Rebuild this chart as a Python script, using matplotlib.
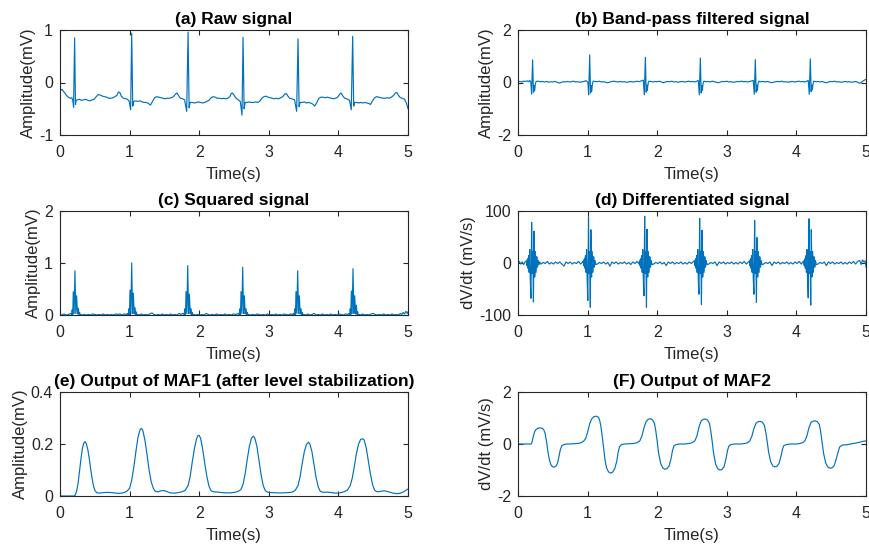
import matplotlib
matplotlib.use("Agg")
import matplotlib.pyplot as plt

plt.rcParams['font.family'] = ['Liberation Sans', 'DejaVu Sans']

LINE_COLOR = '#0072BD'

# ---------------- data (time in s, value) ----------------
raw_signal = [
    (0.00, -0.12), (0.02, -0.14), (0.03, -0.13), (0.05, -0.17), (0.07, -0.20), (0.09, -0.24),
    (0.11, -0.27), (0.13, -0.29), (0.15, -0.30), (0.17, -0.29), (0.185, -0.35), (0.195, -0.47),
    (0.21, 0.85), (0.222, -0.42), (0.232, -0.34), (0.25, -0.33), (0.28, -0.32), (0.31, -0.34),
    (0.34, -0.33), (0.37, -0.32), (0.40, -0.34), (0.43, -0.35), (0.46, -0.33), (0.49, -0.32),
    (0.52, -0.27), (0.55, -0.23), (0.58, -0.24), (0.61, -0.26), (0.64, -0.27), (0.67, -0.28),
    (0.70, -0.30), (0.73, -0.30), (0.76, -0.29), (0.79, -0.27), (0.82, -0.24), (0.84, -0.18),
    (0.86, -0.19), (0.88, -0.26), (0.91, -0.30), (0.94, -0.31), (0.97, -0.32), (0.995, -0.36),
    (1.015, -0.52), (1.03, 0.94), (1.045, -0.45), (1.06, -0.36), (1.09, -0.35), (1.12, -0.36),
    (1.15, -0.35), (1.18, -0.37), (1.21, -0.38), (1.24, -0.38), (1.27, -0.40), (1.30, -0.43),
    (1.33, -0.36), (1.36, -0.29), (1.39, -0.27), (1.42, -0.28), (1.45, -0.29), (1.48, -0.30),
    (1.51, -0.31), (1.54, -0.30), (1.57, -0.30), (1.60, -0.29), (1.63, -0.27), (1.66, -0.22),
    (1.68, -0.20), (1.70, -0.24), (1.73, -0.30), (1.76, -0.31), (1.79, -0.33), (1.82, -0.55),
    (1.84, 0.96), (1.855, -0.48), (1.87, -0.38), (1.90, -0.38), (1.93, -0.39), (1.96, -0.38),
    (1.99, -0.37), (2.02, -0.38), (2.05, -0.39), (2.08, -0.38), (2.11, -0.36), (2.14, -0.34),
    (2.17, -0.29), (2.20, -0.27), (2.23, -0.28), (2.26, -0.30), (2.29, -0.30), (2.32, -0.31),
    (2.35, -0.30), (2.38, -0.31), (2.41, -0.30), (2.44, -0.27), (2.46, -0.21), (2.48, -0.20),
    (2.50, -0.24), (2.53, -0.30), (2.56, -0.33), (2.59, -0.36), (2.615, -0.62), (2.63, 0.86),
    (2.645, -0.50), (2.66, -0.38), (2.69, -0.38), (2.72, -0.37), (2.75, -0.38), (2.78, -0.38),
    (2.81, -0.37), (2.84, -0.38), (2.87, -0.36), (2.90, -0.30), (2.93, -0.27), (2.96, -0.26),
    (2.99, -0.28), (3.02, -0.29), (3.05, -0.30), (3.08, -0.31), (3.11, -0.30), (3.14, -0.31),
    (3.17, -0.29), (3.20, -0.27), (3.23, -0.22), (3.25, -0.21), (3.27, -0.25), (3.30, -0.30),
    (3.33, -0.31), (3.37, -0.33), (3.40, -0.55), (3.42, 0.83), (3.435, -0.46), (3.45, -0.38),
    (3.48, -0.38), (3.51, -0.37), (3.54, -0.39), (3.57, -0.38), (3.60, -0.39), (3.63, -0.41),
    (3.66, -0.45), (3.69, -0.38), (3.72, -0.30), (3.75, -0.28), (3.78, -0.28), (3.81, -0.29),
    (3.84, -0.28), (3.87, -0.29), (3.90, -0.30), (3.93, -0.31), (3.96, -0.30), (3.99, -0.28),
    (4.02, -0.22), (4.04, -0.20), (4.06, -0.25), (4.09, -0.30), (4.12, -0.31), (4.16, -0.34),
    (4.185, -0.52), (4.205, 0.88), (4.22, -0.45), (4.235, -0.38), (4.26, -0.38), (4.29, -0.39),
    (4.32, -0.38), (4.35, -0.39), (4.38, -0.38), (4.41, -0.39), (4.44, -0.40), (4.46, -0.42),
    (4.49, -0.35), (4.52, -0.29), (4.55, -0.27), (4.58, -0.28), (4.61, -0.29), (4.64, -0.30),
    (4.67, -0.30), (4.70, -0.29), (4.73, -0.30), (4.76, -0.28), (4.79, -0.25), (4.82, -0.20),
    (4.84, -0.19), (4.86, -0.24), (4.89, -0.29), (4.92, -0.30), (4.95, -0.32), (4.98, -0.40),
    (5.00, -0.50),
]

bandpass_signal = [
    (0.00, 0.03), (0.03, 0.04), (0.05, 0.02), (0.07, 0.05), (0.10, 0.04), (0.13, 0.06), (0.15, 0.03),
    (0.17, 0.08), (0.185, 0.0), (0.195, -0.44), (0.21, 0.86), (0.222, -0.37), (0.23, -0.12),
    (0.238, -0.32), (0.25, -0.05), (0.26, 0.04), (0.29, 0.05), (0.32, 0.03), (0.35, 0.04),
    (0.38, 0.02), (0.41, 0.04), (0.44, 0.01), (0.47, 0.03), (0.50, 0.02), (0.53, 0.04), (0.56, 0.01),
    (0.59, -0.02), (0.62, 0.0), (0.65, 0.03), (0.68, 0.02), (0.71, 0.04), (0.74, 0.02), (0.77, 0.03),
    (0.80, 0.05), (0.83, 0.02), (0.86, 0.03), (0.89, 0.01), (0.92, 0.03), (0.95, 0.04), (0.98, 0.07),
    (1.005, 0.0), (1.015, -0.47), (1.03, 1.05), (1.042, -0.40), (1.05, -0.12), (1.058, -0.33),
    (1.07, -0.04), (1.08, 0.05), (1.11, 0.04), (1.14, 0.03), (1.17, 0.05), (1.20, 0.02), (1.23, 0.03),
    (1.26, 0.01), (1.29, -0.01), (1.32, 0.02), (1.35, 0.04), (1.38, 0.05), (1.41, 0.03), (1.44, 0.02),
    (1.47, 0.04), (1.50, 0.02), (1.53, 0.03), (1.56, 0.01), (1.59, 0.02), (1.62, 0.04), (1.65, 0.02),
    (1.68, 0.03), (1.71, 0.05), (1.74, 0.03), (1.77, 0.06), (1.80, 0.09), (1.815, -0.47), (1.83, 0.96),
    (1.842, -0.37), (1.85, -0.10), (1.858, -0.30), (1.87, -0.03), (1.88, 0.05), (1.91, 0.04),
    (1.94, 0.02), (1.97, 0.04), (2.00, 0.03), (2.03, 0.05), (2.06, 0.02), (2.09, -0.01), (2.12, 0.02),
    (2.15, 0.04), (2.18, 0.03), (2.21, 0.05), (2.24, 0.02), (2.27, 0.03), (2.30, 0.01), (2.33, 0.03),
    (2.36, 0.04), (2.39, 0.02), (2.42, 0.03), (2.45, 0.05), (2.48, 0.03), (2.51, 0.04), (2.54, 0.02),
    (2.57, 0.05), (2.59, 0.08), (2.605, -0.47), (2.62, 0.93), (2.632, -0.40), (2.64, -0.12),
    (2.648, -0.30), (2.66, -0.03), (2.67, 0.05), (2.70, 0.03), (2.73, 0.04), (2.76, 0.02), (2.79, 0.05),
    (2.82, 0.03), (2.85, 0.01), (2.88, -0.01), (2.91, 0.02), (2.94, 0.04), (2.97, 0.03), (3.00, 0.05),
    (3.03, 0.02), (3.06, 0.03), (3.09, 0.01), (3.12, 0.02), (3.15, 0.04), (3.18, 0.03), (3.21, 0.05),
    (3.24, 0.03), (3.27, 0.04), (3.30, 0.02), (3.33, 0.04), (3.36, 0.06), (3.38, 0.08), (3.395, -0.45),
    (3.41, 0.87), (3.422, -0.37), (3.43, -0.10), (3.438, -0.30), (3.45, -0.03), (3.46, 0.05),
    (3.49, 0.03), (3.52, 0.04), (3.55, 0.02), (3.58, 0.04), (3.61, 0.02), (3.64, -0.01), (3.67, 0.01),
    (3.70, 0.03), (3.73, 0.04), (3.76, 0.03), (3.79, 0.05), (3.82, 0.02), (3.85, 0.03), (3.88, 0.01),
    (3.91, 0.03), (3.94, 0.04), (3.97, 0.02), (4.00, 0.03), (4.03, 0.05), (4.06, 0.03), (4.09, 0.04),
    (4.12, 0.02), (4.15, 0.05), (4.17, 0.08), (4.185, -0.45), (4.20, 0.90), (4.212, -0.35),
    (4.22, -0.10), (4.228, -0.28), (4.24, -0.03), (4.25, 0.05), (4.28, 0.03), (4.31, 0.04),
    (4.34, 0.02), (4.37, 0.04), (4.40, 0.01), (4.43, -0.01), (4.46, 0.02), (4.49, 0.04), (4.52, 0.03),
    (4.55, 0.05), (4.58, 0.02), (4.61, 0.03), (4.64, 0.01), (4.67, 0.02), (4.70, 0.04), (4.73, 0.02),
    (4.76, 0.03), (4.79, 0.01), (4.82, 0.02), (4.85, 0.04), (4.88, 0.01), (4.91, -0.03), (4.94, 0.02),
    (4.97, 0.08), (5.00, 0.12),
]

squared_signal = [
    (0.00, 0.01), (0.03, 0.0), (0.06, 0.02), (0.09, 0.0), (0.12, 0.01), (0.14, 0.02),
    (0.155, 0.03), (0.167, 0.0), (0.175, 0.10), (0.183, 0.01), (0.191, 0.45), (0.203, 0.03),
    (0.215, 0.85), (0.227, 0.03), (0.239, 0.37), (0.251, 0.02), (0.263, 0.13), (0.273, 0.01),
    (0.281, 0.05), (0.291, 0.0),
    (0.30, 0.01), (0.32, 0.0), (0.35, 0.01), (0.38, 0.0), (0.41, 0.01), (0.44, 0.0), (0.47, 0.02),
    (0.50, 0.01), (0.53, 0.0), (0.56, 0.01), (0.59, 0.0), (0.62, 0.02), (0.65, 0.0), (0.68, 0.01),
    (0.71, 0.0), (0.74, 0.01), (0.77, 0.0), (0.80, 0.02), (0.83, 0.01), (0.86, 0.02), (0.89, 0.0),
    (0.92, 0.02), (0.95, 0.01),
    (0.97, 0.03), (0.982, 0.0), (0.99, 0.12), (0.998, 0.01), (1.006, 0.48), (1.018, 0.03),
    (1.03, 1.0), (1.042, 0.03), (1.054, 0.42), (1.066, 0.02), (1.078, 0.14), (1.088, 0.01),
    (1.096, 0.06), (1.106, 0.0),
    (1.12, 0.01), (1.14, 0.0), (1.17, 0.02), (1.20, 0.0), (1.23, 0.01), (1.26, 0.0), (1.29, 0.02),
    (1.32, 0.04), (1.35, 0.01), (1.38, 0.0), (1.41, 0.01), (1.44, 0.0), (1.47, 0.02), (1.50, 0.0),
    (1.53, 0.01), (1.56, 0.0), (1.59, 0.02), (1.62, 0.0), (1.65, 0.01), (1.68, 0.0), (1.71, 0.03),
    (1.74, 0.01), (1.76, 0.03),
    (1.775, 0.03), (1.787, 0.0), (1.795, 0.12), (1.803, 0.01), (1.811, 0.45), (1.823, 0.03),
    (1.835, 0.95), (1.847, 0.03), (1.859, 0.40), (1.871, 0.02), (1.883, 0.12), (1.893, 0.01),
    (1.901, 0.05), (1.911, 0.0),
    (1.92, 0.01), (1.95, 0.0), (1.98, 0.01), (2.01, 0.0), (2.04, 0.01), (2.07, 0.0), (2.10, 0.03),
    (2.13, 0.01), (2.16, 0.0), (2.19, 0.01), (2.22, 0.0), (2.25, 0.02), (2.28, 0.0), (2.31, 0.01),
    (2.34, 0.0), (2.37, 0.02), (2.40, 0.0), (2.43, 0.01), (2.46, 0.0), (2.49, 0.02), (2.52, 0.01),
    (2.55, 0.02),
    (2.565, 0.03), (2.577, 0.0), (2.585, 0.12), (2.593, 0.01), (2.601, 0.45), (2.613, 0.03),
    (2.625, 0.92), (2.637, 0.03), (2.649, 0.37), (2.661, 0.02), (2.673, 0.12), (2.683, 0.01),
    (2.691, 0.05), (2.701, 0.0),
    (2.71, 0.01), (2.74, 0.0), (2.77, 0.01), (2.80, 0.0), (2.83, 0.02), (2.86, 0.01), (2.89, 0.0),
    (2.92, 0.01), (2.95, 0.0), (2.98, 0.02), (3.01, 0.0), (3.04, 0.01), (3.07, 0.0), (3.10, 0.02),
    (3.13, 0.0), (3.16, 0.01), (3.19, 0.0), (3.22, 0.02), (3.25, 0.01), (3.28, 0.0), (3.31, 0.02),
    (3.34, 0.01),
    (3.355, 0.03), (3.367, 0.0), (3.375, 0.12), (3.383, 0.01), (3.391, 0.45), (3.403, 0.03),
    (3.415, 0.85), (3.427, 0.03), (3.439, 0.37), (3.451, 0.02), (3.463, 0.12), (3.473, 0.01),
    (3.481, 0.05), (3.491, 0.0),
    (3.50, 0.01), (3.53, 0.0), (3.56, 0.02), (3.59, 0.0), (3.62, 0.01), (3.65, 0.03), (3.68, 0.0),
    (3.71, 0.01), (3.74, 0.0), (3.77, 0.02), (3.80, 0.0), (3.83, 0.01), (3.86, 0.0), (3.89, 0.02),
    (3.92, 0.0), (3.95, 0.01), (3.98, 0.0), (4.01, 0.02), (4.04, 0.01), (4.07, 0.0), (4.10, 0.02),
    (4.13, 0.01),
    (4.15, 0.03), (4.162, 0.0), (4.17, 0.12), (4.178, 0.01), (4.186, 0.46), (4.198, 0.03),
    (4.21, 0.89), (4.222, 0.03), (4.234, 0.37), (4.246, 0.02), (4.258, 0.19), (4.268, 0.01),
    (4.276, 0.06), (4.286, 0.0),
    (4.30, 0.01), (4.32, 0.0), (4.35, 0.02), (4.38, 0.0), (4.41, 0.01), (4.44, 0.0), (4.47, 0.02),
    (4.50, 0.03), (4.53, 0.01), (4.56, 0.0), (4.59, 0.01), (4.62, 0.0), (4.65, 0.02), (4.68, 0.0),
    (4.71, 0.01), (4.74, 0.0), (4.77, 0.02), (4.80, 0.0), (4.83, 0.01), (4.86, 0.0), (4.89, 0.03),
    (4.91, 0.01), (4.93, 0.05), (4.95, 0.02), (4.97, 0.07), (4.99, 0.03), (5.00, 0.06),
]

differentiated_signal = [
    (0.00, 0), (0.02, 3), (0.04, -2), (0.06, 2), (0.08, -3), (0.10, 2),
    (0.121, 4), (0.128, -5), (0.136, 8), (0.144, -10), (0.152, 14), (0.16, -18), (0.168, 26),
    (0.176, -30), (0.186, -68), (0.196, 78), (0.204, -20), (0.212, 22), (0.222, -75), (0.23, 61),
    (0.24, -27), (0.25, 22), (0.26, -18), (0.27, 12), (0.28, -8), (0.29, 5), (0.301, -3),
    (0.31, 2), (0.33, -2), (0.36, 1), (0.39, -1), (0.42, 3), (0.45, -2), (0.48, 1), (0.51, -2),
    (0.54, 2), (0.57, -1), (0.60, 2), (0.63, -2), (0.66, -6), (0.69, 2), (0.72, -1), (0.75, 2),
    (0.78, -2), (0.81, 1), (0.84, -1), (0.87, 3), (0.90, -2), (0.93, 2),
    (0.938, 4), (0.945, -5), (0.953, 8), (0.961, -10), (0.969, 14), (0.977, -18), (0.985, 26),
    (0.993, -30), (1.003, -72), (1.013, 89), (1.021, -20), (1.029, 22), (1.039, -85), (1.047, 64),
    (1.057, -27), (1.067, 22), (1.077, -18), (1.087, 12), (1.097, -8), (1.107, 5), (1.118, -3),
    (1.14, -2), (1.17, 1), (1.20, -1), (1.23, 2), (1.26, -2), (1.29, 1), (1.32, -6),
    (1.35, 2), (1.38, -1), (1.41, 2), (1.44, -2), (1.47, 1), (1.50, -1), (1.53, 2), (1.56, -2),
    (1.59, 1), (1.62, -3), (1.65, 2), (1.68, -1), (1.71, 3), (1.74, -2),
    (1.745, 4), (1.752, -5), (1.76, 8), (1.768, -10), (1.776, 14), (1.784, -18), (1.792, 26),
    (1.80, -30), (1.81, -63), (1.82, 90), (1.828, -20), (1.836, 22), (1.846, -85), (1.854, 65),
    (1.864, -27), (1.874, 22), (1.884, -18), (1.894, 12), (1.904, -8), (1.914, 5), (1.925, -3),
    (1.95, -2), (1.98, 1), (2.01, -1), (2.04, 2), (2.07, -2), (2.10, 1), (2.13, -5),
    (2.16, 2), (2.19, -1), (2.22, 2), (2.25, -2), (2.28, 1), (2.31, -1), (2.34, 2), (2.37, -2),
    (2.40, 1), (2.43, -2), (2.46, 2), (2.49, -1), (2.52, 3),
    (2.535, 4), (2.542, -5), (2.55, 8), (2.558, -10), (2.566, 14), (2.574, -18), (2.582, 26),
    (2.59, -30), (2.60, -60), (2.61, 86), (2.618, -20), (2.626, 22), (2.636, -80), (2.644, 63),
    (2.654, -27), (2.664, 22), (2.674, -18), (2.684, 12), (2.694, -8), (2.704, 5), (2.715, -3),
    (2.74, -2), (2.77, 1), (2.80, -1), (2.83, 2), (2.86, -5), (2.89, 2), (2.92, -1),
    (2.95, 2), (2.98, -2), (3.01, 1), (3.04, -1), (3.07, 2), (3.10, -2), (3.13, 1), (3.16, -2),
    (3.19, 2), (3.22, -1), (3.25, 3), (3.28, -2), (3.31, 2),
    (3.325, 4), (3.332, -5), (3.34, 8), (3.348, -10), (3.356, 14), (3.364, -18), (3.372, 26),
    (3.38, -30), (3.39, -60), (3.40, 82), (3.408, -20), (3.416, 22), (3.426, -76), (3.434, 49),
    (3.444, -27), (3.454, 22), (3.464, -18), (3.474, 12), (3.484, -8), (3.494, 5), (3.505, -3),
    (3.53, -2), (3.56, 1), (3.59, -1), (3.62, 2), (3.65, -5), (3.68, 2), (3.71, -1),
    (3.74, 2), (3.77, -2), (3.80, 1), (3.83, -1), (3.86, 2), (3.89, -2), (3.92, 1), (3.95, -2),
    (3.98, 2), (4.01, -1), (4.04, 3), (4.07, -2),
    (4.105, 4), (4.112, -5), (4.12, 8), (4.128, -10), (4.136, 14), (4.144, -18), (4.152, 26),
    (4.16, -30), (4.17, -67), (4.18, 85), (4.188, -20), (4.196, 22), (4.206, -81), (4.214, 64),
    (4.224, -27), (4.234, 22), (4.244, -18), (4.254, 12), (4.264, -8), (4.274, 5), (4.285, -3),
    (4.31, -2), (4.34, 1), (4.37, -1), (4.40, 2), (4.43, -5), (4.46, 2), (4.49, -1),
    (4.52, 2), (4.55, -2), (4.58, 1), (4.61, -1), (4.64, 2), (4.67, -2), (4.70, 1), (4.73, -2),
    (4.76, 2), (4.79, -1), (4.82, 3), (4.85, -2), (4.88, 3), (4.91, 5), (4.93, -3), (4.95, 6),
    (4.97, 2), (4.99, 4), (5.00, -8),
]

maf1_output = [
    (0.00, 0.0), (0.20, 0.0), (0.22, 0.004), (0.24, 0.02), (0.26, 0.05), (0.28, 0.095), (0.30, 0.14),
    (0.32, 0.18), (0.34, 0.203), (0.36, 0.209), (0.38, 0.2), (0.40, 0.178), (0.42, 0.145),
    (0.44, 0.105), (0.46, 0.07), (0.48, 0.04), (0.50, 0.022), (0.53, 0.012), (0.57, 0.011),
    (0.62, 0.013), (0.68, 0.014), (0.74, 0.013), (0.80, 0.011), (0.86, 0.01), (0.92, 0.013),
    (0.96, 0.018), (1.00, 0.03), (1.03, 0.06), (1.06, 0.11), (1.09, 0.17), (1.12, 0.225),
    (1.15, 0.255), (1.17, 0.26), (1.19, 0.252), (1.22, 0.215), (1.25, 0.16), (1.28, 0.1),
    (1.31, 0.055), (1.34, 0.03), (1.37, 0.018), (1.41, 0.016), (1.45, 0.02), (1.49, 0.021),
    (1.53, 0.018), (1.58, 0.012), (1.64, 0.011), (1.70, 0.013), (1.76, 0.017), (1.80, 0.022),
    (1.84, 0.04), (1.87, 0.075), (1.90, 0.13), (1.93, 0.18), (1.96, 0.218), (1.98, 0.232),
    (2.00, 0.233), (2.02, 0.222), (2.05, 0.18), (2.08, 0.125), (2.11, 0.075), (2.14, 0.038),
    (2.17, 0.02), (2.21, 0.016), (2.27, 0.015), (2.33, 0.013), (2.39, 0.012), (2.45, 0.012),
    (2.51, 0.014), (2.56, 0.018), (2.60, 0.025), (2.63, 0.045), (2.66, 0.085), (2.69, 0.14),
    (2.72, 0.19), (2.75, 0.222), (2.78, 0.23), (2.80, 0.222), (2.83, 0.19), (2.86, 0.135),
    (2.89, 0.08), (2.92, 0.04), (2.95, 0.02), (2.99, 0.014), (3.05, 0.013), (3.12, 0.012),
    (3.20, 0.012), (3.28, 0.013), (3.34, 0.015), (3.38, 0.022), (3.42, 0.04), (3.45, 0.075),
    (3.48, 0.125), (3.51, 0.17), (3.54, 0.198), (3.57, 0.207), (3.59, 0.2), (3.62, 0.17),
    (3.65, 0.12), (3.68, 0.07), (3.71, 0.035), (3.74, 0.018), (3.78, 0.014), (3.84, 0.015),
    (3.90, 0.013), (3.96, 0.011), (4.02, 0.012), (4.08, 0.016), (4.13, 0.023), (4.17, 0.04),
    (4.20, 0.07), (4.23, 0.115), (4.26, 0.165), (4.29, 0.2), (4.32, 0.218), (4.35, 0.22),
    (4.37, 0.215), (4.40, 0.185), (4.43, 0.135), (4.46, 0.085), (4.49, 0.045), (4.52, 0.022),
    (4.56, 0.016), (4.61, 0.018), (4.66, 0.02), (4.71, 0.017), (4.77, 0.012), (4.83, 0.009),
    (4.88, 0.01), (4.93, 0.015), (4.97, 0.022), (5.00, 0.027),
]

maf2_output = [
    (0.00, 0.0), (0.19, 0.0), (0.20, 0.05), (0.22, 0.3), (0.24, 0.48), (0.26, 0.56), (0.29, 0.61),
    (0.32, 0.62), (0.35, 0.6), (0.37, 0.55), (0.39, 0.4), (0.41, 0.1), (0.43, -0.3), (0.45, -0.6),
    (0.47, -0.78), (0.49, -0.86), (0.51, -0.89), (0.53, -0.88), (0.55, -0.84), (0.57, -0.72),
    (0.59, -0.45), (0.61, -0.2), (0.63, -0.07), (0.66, -0.02), (0.70, 0.0), (0.75, 0.0),
    (0.80, 0.01), (0.85, 0.02), (0.90, 0.04), (0.94, 0.1), (0.97, 0.2), (1.00, 0.45), (1.03, 0.78),
    (1.06, 0.97), (1.09, 1.05), (1.12, 1.07), (1.15, 1.04), (1.17, 0.95), (1.19, 0.7), (1.21, 0.3),
    (1.23, -0.15), (1.25, -0.6), (1.27, -0.9), (1.30, -1.07), (1.33, -1.12), (1.36, -1.08),
    (1.39, -0.95), (1.42, -0.65), (1.44, -0.3), (1.46, -0.1), (1.49, -0.02), (1.53, 0.0),
    (1.60, 0.01), (1.66, 0.02), (1.71, 0.05), (1.75, 0.12), (1.78, 0.3), (1.81, 0.62), (1.84, 0.86),
    (1.87, 0.95), (1.90, 0.97), (1.93, 0.94), (1.96, 0.8), (1.98, 0.5), (2.00, 0.1), (2.02, -0.35),
    (2.05, -0.75), (2.08, -0.92), (2.11, -0.97), (2.14, -0.95), (2.17, -0.85), (2.20, -0.55),
    (2.22, -0.25), (2.24, -0.08), (2.27, -0.02), (2.33, 0.0), (2.40, 0.0), (2.46, 0.02),
    (2.50, 0.05), (2.54, 0.12), (2.57, 0.3), (2.60, 0.65), (2.63, 0.88), (2.66, 0.95), (2.69, 0.96),
    (2.72, 0.93), (2.75, 0.8), (2.77, 0.5), (2.79, 0.1), (2.81, -0.35), (2.84, -0.78), (2.87, -0.95),
    (2.90, -1.0), (2.93, -0.98), (2.96, -0.88), (2.99, -0.55), (3.01, -0.25), (3.03, -0.08),
    (3.06, -0.02), (3.12, 0.0), (3.20, 0.0), (3.26, 0.02), (3.30, 0.05), (3.33, 0.12), (3.36, 0.3),
    (3.39, 0.6), (3.42, 0.8), (3.45, 0.86), (3.48, 0.87), (3.51, 0.84), (3.54, 0.72), (3.56, 0.45),
    (3.58, 0.1), (3.60, -0.3), (3.63, -0.68), (3.66, -0.84), (3.69, -0.88), (3.72, -0.86),
    (3.75, -0.75), (3.78, -0.45), (3.80, -0.2), (3.82, -0.06), (3.86, -0.02), (3.92, 0.0),
    (4.00, 0.0), (4.05, 0.02), (4.09, 0.05), (4.12, 0.12), (4.15, 0.3), (4.18, 0.62), (4.21, 0.83),
    (4.24, 0.88), (4.27, 0.89), (4.30, 0.86), (4.33, 0.75), (4.35, 0.45), (4.37, 0.05),
    (4.39, -0.35), (4.42, -0.72), (4.45, -0.88), (4.48, -0.93), (4.51, -0.92), (4.54, -0.85),
    (4.57, -0.6), (4.60, -0.3), (4.62, -0.12), (4.66, -0.04), (4.72, -0.03), (4.78, 0.0),
    (4.84, 0.03), (4.90, 0.06), (4.95, 0.1), (5.00, 0.12),
]

titles = ['(a) Raw signal', '(b) Band-pass filtered signal', '(c) Squared signal',
          '(d) Differentiated signal', '(e) Output of MAF1 (after level stabilization)',
          '(F) Output of MAF2']
ylabels = ['Amplitude(mV)', 'Amplitude(mV)', 'Amplitude(mV)', 'dV/dt (mV/s)',
           'Amplitude(mV)', 'dV/dt (mV/s)']
yticks = [[-1, 0, 1], [-2, 0, 2], [0, 1, 2], [-100, 0, 100], [0, 0.2, 0.4], [-2, 0, 2]]
yticklabels = [['-1', '0', '1'], ['-2', '0', '2'], ['0', '1', '2'], ['-100', '0', '100'],
               ['0', '0.2', '0.4'], ['-2', '0', '2']]
xticks = [0, 1, 2, 3, 4, 5]
series = [raw_signal, bandpass_signal, squared_signal, differentiated_signal, maf1_output, maf2_output]

# ---------------- figure ----------------
fig = plt.figure(figsize=(8.7, 5.46), dpi=100)
W, H = 870.0, 546.0
lefts = [60, 518]
rows = [(30, 135), (211, 315), (392, 496)]
AX_W = 348
TXT = '#262626'

for i in range(6):
    r, c = divmod(i, 2)
    top, bot = rows[r]
    ax = fig.add_axes([lefts[c] / W, 1 - bot / H, AX_W / W, (bot - top) / H])
    pts = series[i]
    ts = [p[0] for p in pts]
    vs = [p[1] for p in pts]
    ax.plot(ts, vs, color=LINE_COLOR, lw=0.85)
    ax.set_xlim(0, 5)
    ax.set_ylim(yticks[i][0], yticks[i][-1])
    ax.set_xticks(xticks)
    ax.set_xticklabels([str(x) for x in xticks])
    ax.set_yticks(yticks[i])
    ax.set_yticklabels(yticklabels[i])
    ax.tick_params(direction='in', top=True, right=True, length=3.5, width=0.8,
                   labelsize=11.5, colors=TXT)
    ax.tick_params(axis='x', pad=7)
    ax.tick_params(axis='y', pad=5)
    for s in ax.spines.values():
        s.set_color(TXT)
        s.set_linewidth(0.8)
    ax.set_title(titles[i], fontsize=12.5, fontweight='bold', color='black', pad=4)
    ax.set_xlabel('Time(s)', fontsize=12, color=TXT, labelpad=5)
    ax.set_ylabel(ylabels[i], fontsize=12, color=TXT, labelpad=2)

fig.savefig('out.png', dpi=100)
